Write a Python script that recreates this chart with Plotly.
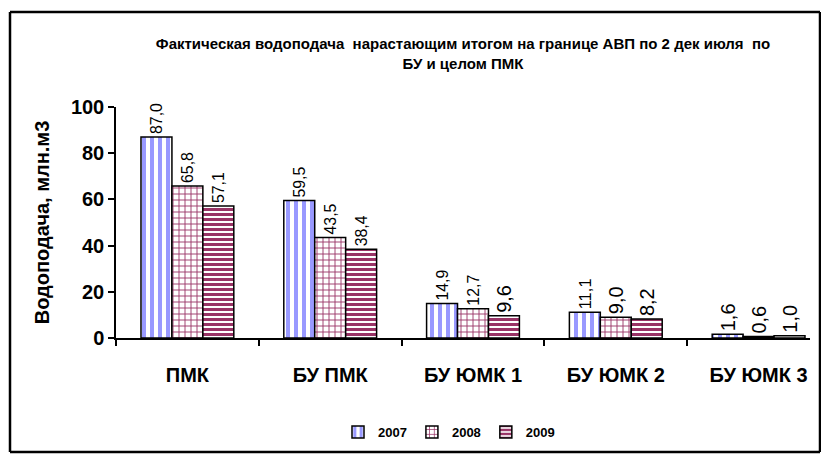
import plotly.graph_objects as go

categories = ["ПМК", "БУ ПМК", "БУ ЮМК 1", "БУ ЮМК 2", "БУ ЮМК 3"]
years = ["2007", "2008", "2009"]
v2007 = [87.0, 59.5, 14.9, 11.1, 1.6]
v2008 = [65.8, 43.5, 12.7, 9.0, 0.6]
v2009 = [57.1, 38.4, 9.6, 8.2, 1.0]
title_text = "Фактическая водоподача  нарастающим итогом на границе АВП по 2 дек июля  по<br>БУ и целом ПМК"
y_title = "Водоподача, млн.м3"

# the page body adds an 8px margin; figure is sized/positioned to compensate
OFF = 8
W, H = 829 - OFF, 460 - OFF
L, T = 116 - OFF, 107 - OFF
pw, ph = 694, 231
R = W - L - pw
B = H - T - ph

def fmt(v):
    return f"{v:.1f}".replace(".", ",")

styles = [
    dict(shape="|", fg="#9999FF", bg="white", size=8, sol=0.5),
    dict(shape="+", fg="#993366", bg="white", size=6, sol=0.28),
    dict(shape="-", fg="#993366", bg="white", size=5, sol=0.6),
]

fig = go.Figure()
for name, vals, st in zip(years, [v2007, v2008, v2009], styles):
    fig.add_trace(go.Bar(
        name=name, x=categories, y=vals,
        text=[fmt(v) for v in vals], textposition="outside", textangle=-90,
        textfont=dict(family="Liberation Sans, Arial", size=20, color="black"),
        cliponaxis=False,
        marker=dict(color="white", line=dict(color="black", width=1.5),
                    pattern=dict(shape=st["shape"], fgcolor=st["fg"], bgcolor=st["bg"],
                                 size=st["size"], solidity=st["sol"], fillmode="replace")),
    ))

fig.update_layout(
    width=W, height=H,
    margin=dict(l=L, r=R, t=T, b=B, autoexpand=False),
    paper_bgcolor="white", plot_bgcolor="white",
    barmode="group", bargap=0.35, bargroupgap=0,
    font=dict(family="Liberation Sans, Arial", color="black"),
    title=dict(text=title_text, x=0.5, xanchor="center", xref="paper", y=1 - 41 / H, yanchor="top",
               font=dict(family="Liberation Sans Narrow, Arial Narrow, Liberation Sans", size=15, weight="bold")),
    showlegend=True,
    legend=dict(orientation="h", x=(449 - OFF - L) / pw, xanchor="center",
                y=(H - (432 - OFF) - B) / ph, yanchor="middle",
                font=dict(size=13, weight="bold"), itemwidth=30, traceorder="normal"),
    xaxis=dict(range=[-0.5, 4.36], showline=True, linecolor="black", linewidth=1.5, ticks="outside",
               tickson="boundaries", ticklen=6, tickcolor="black", tickwidth=1.5, ticklabelstandoff=18,
               tickfont=dict(size=20, weight="bold"), showgrid=False, automargin=False),
    yaxis=dict(range=[0, 100], dtick=20, showline=True, linecolor="black", linewidth=1.5,
               ticks="outside", ticklen=6, tickcolor="black", tickwidth=1.5,
               tickfont=dict(size=20, weight="bold"), showgrid=False, zeroline=False, automargin=False,
               title=dict(text=y_title, font=dict(size=20, weight="bold"), standoff=16)),
)

# outer chart border (screen pixel positions converted to paper coordinates)
def px_x(x):
    return (x - OFF - L) / pw

def px_y(y):
    return ((H - (y - OFF)) - B) / ph

edges = [
    (10, 452, 820, 452),
    (10, 12, 820, 12),
    (10, 12, 10, 452),
    (820, 12, 820, 452),
]
for (xa, ya, xb, yb) in edges:
    fig.add_shape(type="line", xref="paper", yref="paper", x0=px_x(xa), y0=px_y(ya), x1=px_x(xb), y1=px_y(yb),
                  line=dict(color="black", width=2.5), layer="above")

fig.write_html("out.html")
